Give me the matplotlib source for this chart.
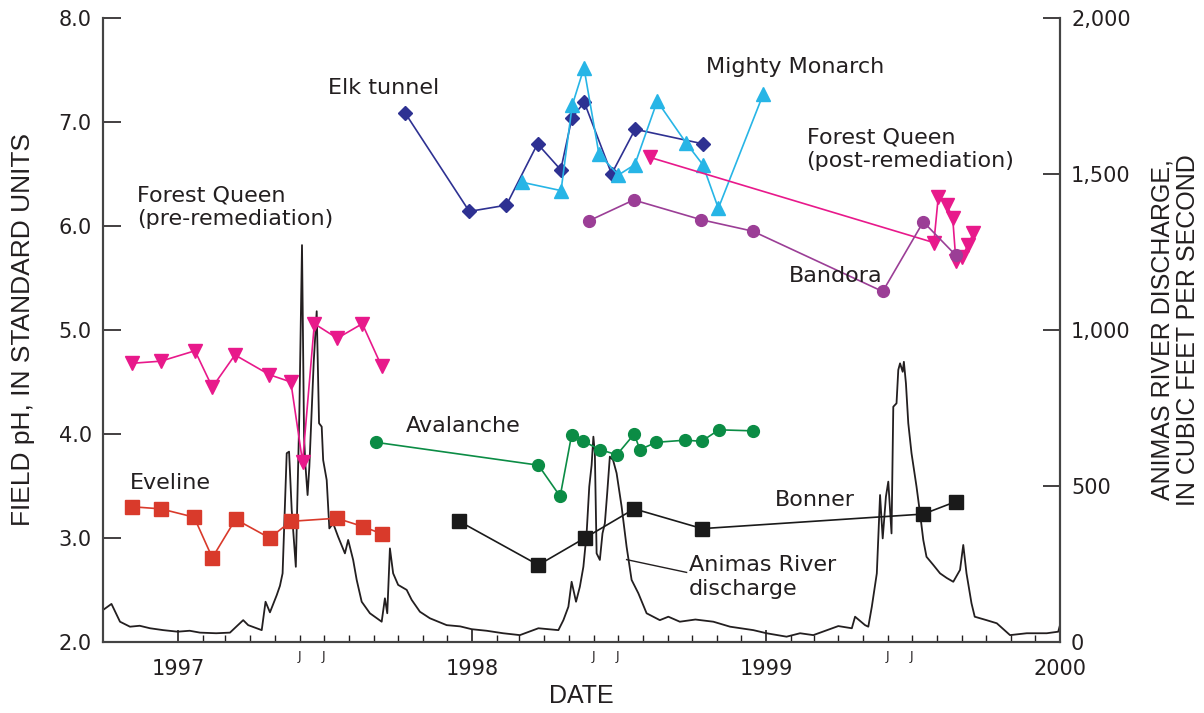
import matplotlib
matplotlib.use("Agg")
import matplotlib.pyplot as plt
from matplotlib.ticker import FixedLocator, FixedFormatter

# sample dates are decimal years, pH in standard units
fq_pre_t = [1996.845, 1996.942, 1997.058, 1997.117, 1997.194, 1997.311, 1997.384,
            1997.424, 1997.464, 1997.542, 1997.627, 1997.693]
fq_pre_ph = [4.68, 4.70, 4.80, 4.45, 4.76, 4.57, 4.50, 3.73, 5.06, 4.92, 5.06, 4.65]

eveline_t = [1996.845, 1996.942, 1997.055, 1997.117, 1997.196, 1997.312, 1997.384,
             1997.540, 1997.629, 1997.693]
eveline_ph = [3.30, 3.28, 3.20, 2.81, 3.18, 3.00, 3.16, 3.19, 3.11, 3.04]

avalanche_t = [1997.673, 1998.226, 1998.300, 1998.339, 1998.379, 1998.435, 1998.493,
               1998.552, 1998.571, 1998.627, 1998.724, 1998.781, 1998.840, 1998.957]
avalanche_ph = [3.92, 3.70, 3.40, 3.99, 3.93, 3.85, 3.80, 4.00, 3.85, 3.92, 3.94, 3.93,
                4.04, 4.03]

bonner_t = [1997.957, 1998.226, 1998.384, 1998.552, 1998.783, 1999.535, 1999.646]
bonner_ph = [3.16, 2.74, 3.00, 3.28, 3.09, 3.23, 3.35]

elk_t = [1997.772, 1997.991, 1998.117, 1998.223, 1998.302, 1998.340, 1998.382,
         1998.475, 1998.555, 1998.785]
elk_ph = [7.09, 6.14, 6.20, 6.79, 6.54, 7.04, 7.19, 6.50, 6.93, 6.79]

monarch_t = [1998.171, 1998.303, 1998.341, 1998.381, 1998.432, 1998.498, 1998.554,
             1998.630, 1998.728, 1998.785, 1998.838, 1998.991]
monarch_ph = [6.42, 6.34, 7.16, 7.52, 6.69, 6.49, 6.59, 7.20, 6.80, 6.59, 6.17, 7.27]

fq_post_t = [1998.605, 1999.571, 1999.586, 1999.615, 1999.635, 1999.646, 1999.666,
             1999.688, 1999.705]
fq_post_ph = [6.66, 5.84, 6.28, 6.20, 6.08, 5.66, 5.70, 5.82, 5.93]

bandora_t = [1998.398, 1998.550, 1998.780, 1998.955, 1999.397, 1999.535, 1999.645]
bandora_ph = [6.05, 6.25, 6.06, 5.95, 5.37, 6.04, 5.72]

# Animas River discharge, cubic feet per second
flow_t = [1996.746, 1996.774, 1996.803, 1996.837, 1996.870, 1996.905, 1996.950, 1996.999,
          1997.040, 1997.075, 1997.130, 1997.177,
          1997.222, 1997.239, 1997.285, 1997.298, 1997.313, 1997.336, 1997.347, 1997.356,
          1997.370, 1997.378, 1997.387, 1997.401, 1997.413, 1997.422, 1997.429, 1997.434,
          1997.441, 1997.447, 1997.462, 1997.472, 1997.480, 1997.489, 1997.494, 1997.506,
          1997.515, 1997.528, 1997.545, 1997.568, 1997.579, 1997.596, 1997.608, 1997.625,
          1997.653, 1997.693, 1997.704, 1997.712, 1997.721, 1997.732, 1997.749, 1997.778,
          1997.795, 1997.823, 1997.857, 1997.914, 1997.960, 1997.999, 1998.050, 1998.106,
          1998.163, 1998.226,
          1998.294, 1998.311, 1998.328, 1998.339, 1998.354, 1998.367, 1998.379, 1998.390,
          1998.399, 1998.407, 1998.413, 1998.418, 1998.424, 1998.435, 1998.444, 1998.452,
          1998.460, 1998.469, 1998.480, 1998.492, 1998.509, 1998.526, 1998.543, 1998.566,
          1998.594, 1998.639, 1998.668, 1998.707, 1998.760, 1998.821, 1998.878, 1998.957,
          1999.002, 1999.070, 1999.116, 1999.161, 1999.246, 1999.292, 1999.303, 1999.337,
          1999.348, 1999.360, 1999.377, 1999.388, 1999.397, 1999.408, 1999.416, 1999.422,
          1999.427, 1999.433, 1999.444, 1999.450, 1999.456, 1999.465, 1999.469, 1999.476,
          1999.484, 1999.495, 1999.512, 1999.524, 1999.535, 1999.546, 1999.569, 1999.592,
          1999.615, 1999.637, 1999.660, 1999.671, 1999.682, 1999.699, 1999.710, 1999.750,
          1999.785, 1999.830, 1999.887, 1999.955, 1999.994, 2000.000]
flow_q = [103, 122, 65, 49, 52, 44, 38, 33,
          36, 30, 28, 30,
          70, 54, 38, 129, 95, 150, 180, 220,
          605, 610, 423, 241, 733, 1272, 658, 562,
          471, 562, 900, 1060, 701, 690, 583, 519,
          364, 380, 337, 284, 327, 263, 199, 129,
          92, 65, 140, 92, 300, 220, 183, 167,
          135, 97, 76, 54, 50, 41, 36, 28,
          22, 44,
          38, 70, 113, 193, 129, 177, 241, 348,
          498, 567, 658, 605, 284, 263, 348, 380,
          477, 594, 583, 541, 434, 305, 199, 156,
          92, 70, 81, 65, 72, 65, 49, 38,
          28, 17, 28, 22, 51, 44, 81, 54,
          49, 113, 220, 471, 332, 466, 514, 423,
          348, 754, 765, 872, 893, 866, 898, 829,
          701, 605, 498, 412, 327, 273, 247, 220,
          205, 193, 231, 311, 220, 124, 81, 70,
          60, 22, 28, 28, 33, 54]

years = [1997, 1998, 1999, 2000]
month_days = [0, 31, 59, 90, 120, 151, 181, 212, 243, 273, 304, 334]

plt.rcParams["font.family"] = ["DejaVu Sans"]
axis_font = ["Liberation Sans", "DejaVu Sans"]
ink = "#231f20"

fig = plt.figure(figsize=(12.04, 7.13), dpi=100)
ax = fig.add_axes([0.0855, 0.0996, 0.7949, 0.8752])
ax2 = ax.twinx()

# discharge on the right axis, drawn under the pH series
ax2.plot(flow_t, flow_q, color=ink, lw=1.3, zorder=2)
ax2.set_ylim(0, 2000)
ax2.set_yticks([0, 500, 1000, 1500, 2000])
ax2.set_yticklabels(["0", "500", "1,000", "1,500", "2,000"])
ax.set_zorder(ax2.get_zorder() + 1)
ax.patch.set_visible(False)

series = [
    (fq_pre_t, fq_pre_ph, "#e8198b", "v", 10),
    (eveline_t, eveline_ph, "#d93a2b", "s", 10),
    (avalanche_t, avalanche_ph, "#0b8c45", "o", 8.5),
    (bonner_t, bonner_ph, "#1a1a1a", "s", 10),
    (elk_t, elk_ph, "#2e3192", "D", 7.5),
    (monarch_t, monarch_ph, "#27b5e6", "^", 10),
    (fq_post_t, fq_post_ph, "#e8198b", "v", 10),
    (bandora_t, bandora_ph, "#9b3e96", "o", 8.5),
]
for t, ph, c, m, ms in series:
    ax.plot(t, ph, color=c, lw=1.2, marker=m, markersize=ms, markeredgecolor=c)

ax.set_xlim(1996.745, 2000.0)
ax.set_ylim(2.0, 8.0)
ax.set_yticks([2, 3, 4, 5, 6, 7, 8])
ax.set_yticklabels(["2.0", "3.0", "4.0", "5.0", "6.0", "7.0", "8.0"])

# year ticks plus monthly minor ticks, June and July marked with J
minor = []
minor_lab = []
for y in [1997, 1998, 1999]:
    for i, d in enumerate(month_days[1:], start=1):
        minor.append(y + d / 365.0)
        minor_lab.append("J" if i in (5, 6) else "")
ax.xaxis.set_major_locator(FixedLocator(years))
ax.set_xticklabels([str(y) for y in years])
ax.xaxis.set_minor_locator(FixedLocator(minor))
ax.xaxis.set_minor_formatter(FixedFormatter(minor_lab))

ax.tick_params(axis="x", which="major", direction="in", length=9, width=1.2,
               labelsize=15, pad=12, colors=ink)
ax.tick_params(axis="x", which="minor", direction="in", length=5, width=1.0,
               labelsize=9, pad=6, colors=ink)
ax.tick_params(axis="y", direction="in", length=13, width=1.2, labelsize=15, pad=8,
               colors=ink)
ax2.tick_params(axis="y", direction="in", length=12, width=1.2, labelsize=15, pad=8,
                colors=ink)

for a in (ax, ax2):
    for s in a.spines.values():
        s.set_color("#444444")
        s.set_linewidth(1.5)
ax2.spines["right"].set_color(ink)
ax.spines["top"].set_visible(False)
ax2.spines["top"].set_visible(False)

ax.set_xlabel("DATE", fontsize=18, family=axis_font, color=ink, labelpad=4)
ax.set_ylabel("FIELD pH, IN STANDARD UNITS", fontsize=19, family=axis_font,
              color=ink, labelpad=17)
ax2.set_ylabel("ANIMAS RIVER DISCHARGE,\nIN CUBIC FEET PER SECOND", fontsize=18,
               family=axis_font, color=ink, labelpad=14, linespacing=1.1)

# site labels
lab = dict(fontsize=16, color=ink, va="center", ha="left")
ax.text(1997.51, 7.33, "Elk tunnel", **lab)
ax.text(1998.796, 7.53, "Mighty Monarch", **lab)
ax.text(1999.138, 6.74, "Forest Queen\n(post-remediation)", linespacing=1.25, **lab)
ax.text(1996.86, 6.18, "Forest Queen\n(pre-remediation)", linespacing=1.25, **lab)
ax.text(1999.078, 5.52, "Bandora", **lab)
ax.text(1997.775, 4.08, "Avalanche", **lab)
ax.text(1996.838, 3.53, "Eveline", **lab)
ax.text(1999.03, 3.37, "Bonner", **lab)
ax2.plot([1998.526, 1998.730], [264, 223], color=ink, lw=1.0)
ax2.text(1998.737, 208, "Animas River\ndischarge", linespacing=1.25, **lab)

fig.savefig("out.png", dpi=100)
